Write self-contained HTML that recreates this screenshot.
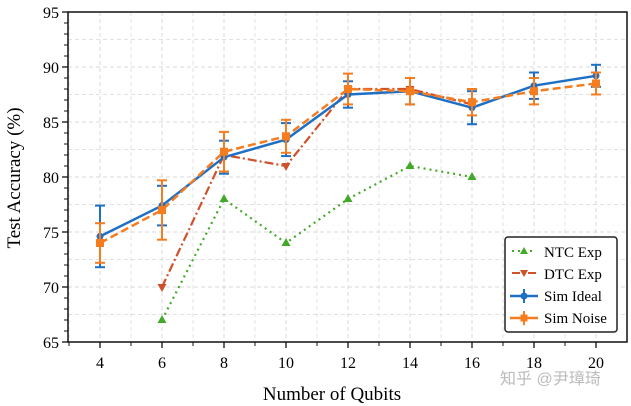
<!DOCTYPE html>
<html><head><meta charset="utf-8"><style>
body{margin:0;background:#fff;}
svg{display:block;font-family:"Liberation Serif",serif;}
</style></head><body>
<svg id="chart" width="631" height="406">
<g id="grid"></g>
<g id="axes"></g>
<g id="series"></g>
<text x="332" y="400" font-size="19" text-anchor="middle">Number of Qubits</text>
<text transform="translate(20,178) rotate(-90)" font-size="19" text-anchor="middle">Test Accuracy (%)</text>
<g>
<rect x="505" y="237" width="112" height="95" rx="3" fill="#fff" stroke="#222" stroke-width="1.5"/>
<g><line x1="512" y1="251" x2="536" y2="251" stroke="#44a82a" stroke-width="2" stroke-dasharray="2,4"/><polygon points="524,247 528,254 520,254" fill="#44a82a"/><text x="544" y="257" font-size="15">NTC Exp</text></g>
<g><line x1="512" y1="273" x2="536" y2="273" stroke="#d0502a" stroke-width="2" stroke-dasharray="8,3,2,3"/><polygon points="520,270 528,270 524,277" fill="#d0502a"/><text x="544" y="279" font-size="15">DTC Exp</text></g>
<g><line x1="510" y1="296" x2="538" y2="296" stroke="#1f6fc4" stroke-width="2.5"/><line x1="524" y1="289" x2="524" y2="303" stroke="#1f6fc4" stroke-width="2"/><circle cx="524" cy="296" r="3.5" fill="#1f6fc4"/><text x="544" y="301" font-size="15">Sim Ideal</text></g>
<g><line x1="510" y1="318" x2="538" y2="318" stroke="#f57c1f" stroke-width="2.5"/><line x1="524" y1="311" x2="524" y2="325" stroke="#f57c1f" stroke-width="2"/><rect x="520.5" y="314.5" width="7" height="7" fill="#f57c1f"/><text x="544" y="323" font-size="15">Sim Noise</text></g>
</g>
<text x="500" y="384" font-size="16" fill="#bbb" font-family="'Liberation Sans','Noto Sans CJK SC',sans-serif">知乎 @尹璋琦</text>
</svg>
<script>
const xTicks=[4,6,8,10,12,14,16,18,20];
const yTicks=[65,70,75,80,85,90,95];
const qubits=[4,6,8,10,12,14,16,18,20];
const simIdeal=[74.6,77.4,81.8,83.4,87.5,87.8,86.3,88.3,89.2];
const simIdealErr=[2.8,1.8,1.5,1.5,1.2,1.2,1.5,1.2,1.0];
const simNoise=[74.0,77.0,82.3,83.7,88.0,87.8,86.8,87.8,88.5];
const simNoiseErr=[1.8,2.7,1.8,1.5,1.4,1.2,1.2,1.2,1.0];
const dtcX=[6,8,10,12,14,16];
const dtcY=[70,82,81,88,88,86.6];
const ntcX=[6,8,10,12,14,16];
const ntcY=[67,78,74,78,81,80];
const L=68,R=627,T=12,B=342;
const xs=v=>100+(v-4)*31;
const ys=v=>B-(v-65)*(B-T)/30;
const NS="http://www.w3.org/2000/svg";
function mk(parent,tag,at){const e=document.createElementNS(NS,tag);for(const k in at)e.setAttribute(k,at[k]);document.getElementById(parent).appendChild(e);return e;}
for(let v=3;v<=21;v++){const g=mk('grid','line',{x1:xs(v),x2:xs(v),y1:T,y2:B,stroke:'#d8d8d8','stroke-dasharray':'4,3','stroke-width':v%2==0?1:0.7});

}
for(let v=65;v<=95;v+=2.5){const g=mk('grid','line',{x1:L,x2:R,y1:ys(v),y2:ys(v),stroke:'#d8d8d8','stroke-dasharray':'4,3','stroke-width':v%5==0?1:0.7});

}
const fr=mk('axes','rect',{x:L,y:T,width:R-L,height:B-T,fill:'none',stroke:'#111','stroke-width':1.5});


xTicks.forEach(v=>{mk('axes','line',{x1:xs(v),x2:xs(v),y1:B,y2:B+6,stroke:'#111','stroke-width':1.3});
const t=mk('axes','text',{x:xs(v),y:B+26,'font-size':16,'text-anchor':'middle'});t.textContent=v;

});
for(let v=3;v<=21;v+=2){if(xs(v)>L&&xs(v)<R)mk('axes','line',{x1:xs(v),x2:xs(v),y1:B,y2:B+4,stroke:'#111'});}
for(let v=66;v<95;v++){if(v%5)mk('axes','line',{x1:L-4,x2:L,y1:ys(v),y2:ys(v),stroke:'#111'});}
yTicks.forEach(v=>{mk('axes','line',{x1:L-6,x2:L,y1:ys(v),y2:ys(v),stroke:'#111','stroke-width':1.3});
const t=mk('axes','text',{x:L-9,y:ys(v)+6,'font-size':16,'text-anchor':'end'});t.textContent=v;

});
function pts(X,Y){return X.map((x,i)=>xs(x)+','+ys(Y[i])).join(' ');}
const n=mk('series','polyline',{points:pts(ntcX,ntcY),fill:'none',stroke:'#44a82a','stroke-width':2.2,'stroke-dasharray':'2,4'});


ntcX.forEach((x,i)=>{const cx=xs(x),cy=ys(ntcY[i]);const p=mk('series','polygon',{points:`${cx},${cy-5} ${cx+4.5},${cy+3} ${cx-4.5},${cy+3}`,fill:'#44a82a'});

});
const d=mk('series','polyline',{points:pts(dtcX,dtcY),fill:'none',stroke:'#d0502a','stroke-width':2.2,'stroke-dasharray':'9,3,2,3'});


dtcX.forEach((x,i)=>{const cx=xs(x),cy=ys(dtcY[i]);const p=mk('series','polygon',{points:`${cx-4.5},${cy-3} ${cx+4.5},${cy-3} ${cx},${cy+5}`,fill:'#d0502a'});

});
function errSeries(Y,E,col,dash,name,sq){
const l=mk('series','polyline',{points:pts(qubits,Y),fill:'none',stroke:col,'stroke-width':2.5,'stroke-dasharray':dash});


qubits.forEach((x,i)=>{const cx=xs(x),y1=ys(Y[i]+E[i]),y2=ys(Y[i]-E[i]);
mk('series','line',{x1:cx,x2:cx,y1:y1,y2:y2,stroke:col,'stroke-width':2});
mk('series','line',{x1:cx-5,x2:cx+5,y1:y1,y2:y1,stroke:col,'stroke-width':2});
mk('series','line',{x1:cx-5,x2:cx+5,y1:y2,y2:y2,stroke:col,'stroke-width':2});
const m=sq?mk('series','rect',{x:cx-4,y:ys(Y[i])-4,width:8,height:8,fill:col}):mk('series','circle',{cx:cx,cy:ys(Y[i]),r:3.5,fill:col});

});}
errSeries(simIdeal,simIdealErr,'#1f6fc4','none','sim-ideal',false);
errSeries(simNoise,simNoiseErr,'#f57c1f','8,4','sim-noise',true);
</script>
</body></html>
